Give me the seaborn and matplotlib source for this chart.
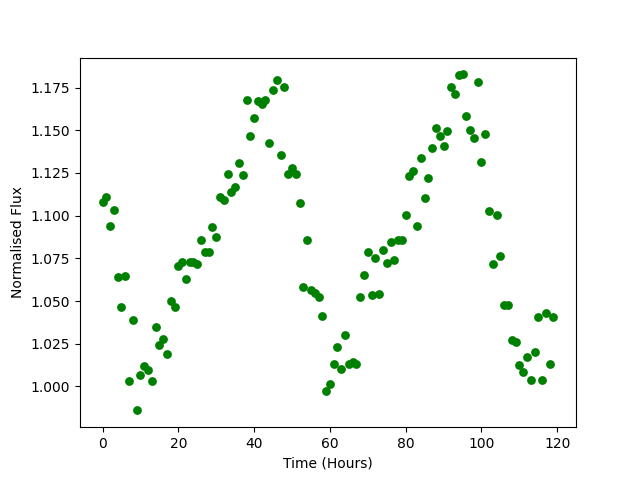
import matplotlib
matplotlib.use("Agg")
import matplotlib.pyplot as plt
import seaborn as sns
import pandas as pd

hours = list(range(120))
flux = [
    1.108, 1.1107, 1.0937, 1.1035, 1.0642, 1.0467, 1.0648, 1.0033, 1.0392, 0.986,
    1.007, 1.0121, 1.0098, 1.0033, 1.035, 1.0244, 1.0279, 1.0191, 1.0503, 1.0467,
    1.0708, 1.0726, 1.0627, 1.073, 1.0726, 1.0718, 1.0859, 1.079, 1.079, 1.0931,
    1.0878, 1.1112, 1.1089, 1.1245, 1.1136, 1.1169, 1.1311, 1.1239, 1.1679, 1.1468,
    1.1573, 1.1674, 1.1655, 1.168, 1.1423, 1.1737, 1.1792, 1.1356, 1.1751, 1.1241,
    1.1278, 1.1245, 1.1075, 1.0585, 1.0860, 1.0562, 1.0546, 1.0523, 1.041, 0.9971,
    1.0012, 1.0129, 1.0234, 1.0105, 1.0299, 1.0129, 1.0146, 1.0133, 1.0521, 1.0654,
    1.079, 1.0537, 1.0753, 1.0543, 1.08, 1.0724, 1.0845, 1.0742, 1.0855, 1.0855,
    1.1001, 1.1234, 1.1263, 1.0941, 1.1339, 1.1101, 1.1222, 1.1398, 1.1516, 1.1468,
    1.1409, 1.1493, 1.1756, 1.1714, 1.1821, 1.1827, 1.1585, 1.1503, 1.1456, 1.1784,
    1.1316, 1.1481, 1.1029, 1.0718, 1.1005, 1.0765, 1.0478, 1.0478, 1.0275, 1.0262,
    1.0123, 1.0086, 1.0174, 1.0039, 1.0203, 1.0408, 1.0039, 1.0433, 1.0133, 1.0408,
]

df = pd.DataFrame({"Time (Hours)": hours, "Normalised Flux": flux})

fig, ax = plt.subplots(figsize=(6.4, 4.8), dpi=100)
sns.scatterplot(data=df, x="Time (Hours)", y="Normalised Flux", ax=ax,
                color="green", s=40, linewidth=0)
ax.set_xlabel("Time (Hours)")
ax.set_ylabel("Normalised Flux")
fig.savefig("out.png", dpi=100)
